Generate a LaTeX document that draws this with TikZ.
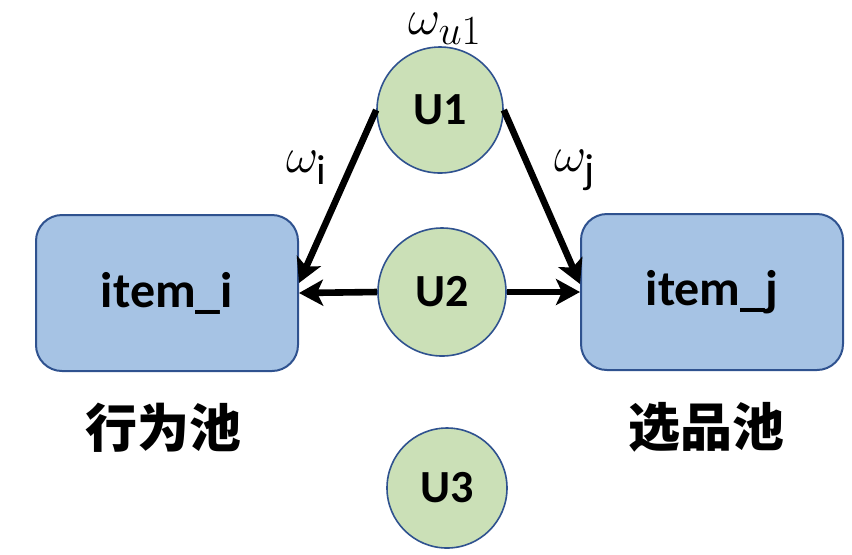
\documentclass[tikz,border=0pt]{standalone}
\usepackage{fontspec}
\setmainfont{Carlito}
\newfontfamily\cjk{Noto Sans CJK SC}
\DeclareMathSizes{26}{26}{21}{16}
\usepackage{tikz}
\usetikzlibrary{arrows.meta}
\usetikzlibrary{positioning}

\definecolor{boxfill}{HTML}{A6C3E4}
\definecolor{circfill}{HTML}{CBE0B7}
\definecolor{edge}{HTML}{2F528F}

\tikzset{
  ucirc/.style={circle,draw=edge,fill=circfill,line width=0.8pt,inner sep=0pt,
    font=\fontsize{23}{27}\selectfont\bfseries},
  itembox/.style={rectangle,rounded corners=13pt,draw=edge,fill=boxfill,line width=1pt,
    minimum width=131pt,minimum height=78pt,font=\fontsize{25}{29}\selectfont\bfseries},
  pool/.style={font=\fontsize{26}{30}\selectfont\cjk\bfseries},
  wlabel/.style={font=\fontsize{26}{30}\selectfont,inner sep=0pt},
  link/.style={line width=3.3pt,-{Stealth[length=12pt,width=13pt,inset=3pt]}}
}

\begin{document}
\begin{tikzpicture}[x=0.5pt,y=-0.5pt]
  % Boundary
  \path[use as bounding box] (0,0) rectangle (852,554);
  % Pools
  \node[itembox] (itemi) at (167,293) {item\_i};
  \node[itembox] (itemj) at (712,292) {item\_j};
  \node[pool,below=12pt of itemi,xshift=-2pt] (poolb) {行为池};
  \node[pool,below=12pt of itemj,xshift=-3pt] (pools) {选品池};
  % Users
  \node[ucirc,minimum size=63pt] (u1) at (440,110) {U1};
  \node[ucirc,minimum size=64pt] (u2) at (442,292) {U2};
  \node[ucirc,minimum size=60pt] (u3) at (447,488) {U3};
  % Weights
  \node[wlabel] (wu) at (445,29) {$\omega_{u1}$};
  \node[wlabel] (wi) at (307,168) {$\omega_{\mathrm{i}}$};
  \node[wlabel] (wj) at (575,170) {$\omega_{\mathrm{j}}$};
  % Links
  \draw[link] (u1.west) -- ([yshift=5pt]itemi.east);
  \draw[link] (u1.east) -- ([yshift=4pt]itemj.west);
  \draw[link] (u2.west) -- (itemi.east);
  \draw[link] (u2.east) -- (itemj.west);
\end{tikzpicture}
\end{document}
